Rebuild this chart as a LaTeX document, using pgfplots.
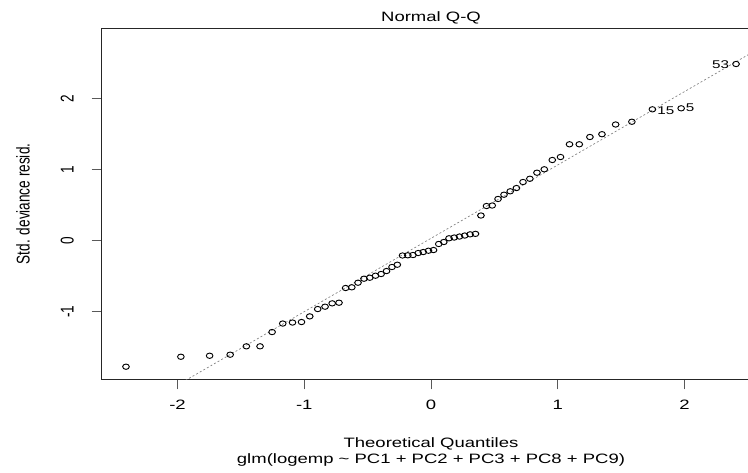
\documentclass[border=0pt]{standalone}
\usepackage{pgfplots}
\pgfplotsset{compat=1.18}
\usepackage{fontspec}
\usepackage{graphicx}
\setmainfont{Liberation Sans}[FakeStretch=1.36]
\newfontfamily\plainfont{Liberation Sans}
\newcommand{\fsz}{\fontsize{10.2pt}{12pt}\selectfont}
\newcommand{\rot}[1]{\scalebox{1}[1.36]{\plainfont\fsz #1}}
\pgfplotstableread{
x y
-2.407 -1.777
-1.974 -1.637
-1.747 -1.623
-1.585 -1.608
-1.457 -1.490
-1.349 -1.490
-1.254 -1.289
-1.170 -1.169
-1.093 -1.155
-1.022 -1.148
-0.957 -1.068
-0.894 -0.965
-0.836 -0.932
-0.780 -0.885
-0.726 -0.876
-0.674 -0.669
-0.625 -0.659
-0.576 -0.594
-0.529 -0.538
-0.483 -0.524
-0.438 -0.496
-0.394 -0.472
-0.351 -0.430
-0.308 -0.373
-0.266 -0.341
-0.225 -0.211
-0.183 -0.208
-0.142 -0.204
-0.101 -0.176
-0.061 -0.162
-0.020 -0.144
0.020 -0.134
0.061 -0.049
0.101 -0.021
0.142 0.031
0.183 0.042
0.225 0.056
0.266 0.070
0.308 0.087
0.351 0.094
0.394 0.352
0.438 0.486
0.483 0.493
0.529 0.585
0.576 0.645
0.625 0.693
0.674 0.739
0.726 0.824
0.780 0.870
0.836 0.955
0.894 1.003
0.957 1.134
1.022 1.176
1.093 1.355
1.170 1.355
1.254 1.458
1.349 1.497
1.457 1.634
1.585 1.673
1.747 1.848
1.974 1.862
2.407 2.486
}\qqdata
\begin{document}
\begin{tikzpicture}
\path[use as bounding box] (0,0) rectangle (561pt,354.75pt);
\begin{axis}[
  name=ax,
  at={(76.05pt,69.98pt)}, anchor=south west,
  scale only axis, width=494.4pt, height=263.55pt,
  xmin=-2.601, xmax=2.601, ymin=-1.960, ymax=2.989,
  clip mode=individual,
  xtick={-2,-1,0,1,2}, ytick={-1,0,1,2},
  xticklabels={-2,-1,0,1,2},
  yticklabels={\rot{-1},\rot{0},\rot{1},\rot{2}},
  tick align=outside, major tick length=7.3pt,
  xtick pos=bottom, ytick pos=left,
  axis line style={black!85, line width=0.6pt},
  tick style={black!65, line width=0.6pt},
  xticklabel style={font=\fsz, anchor=north, inner sep=0pt},
  xticklabel shift=7.8pt,
  yticklabel style={rotate=90, anchor=base, inner sep=0pt},
  yticklabel shift=13.6pt,
  title={Normal Q-Q},
  title style={font=\fsz, at={(0.5,1)}, anchor=base, yshift=-0.7pt, inner sep=0pt},
  xlabel={Theoretical Quantiles},
  xlabel style={font=\fsz, at={(axis description cs:0.5,0)}, anchor=base, yshift=-50.7pt, inner sep=0pt},
  ylabel={\rot{Std. deviance resid.}},
  ylabel style={at={(axis description cs:-0.109,0.5)}, anchor=base, rotate=0, inner sep=0pt},
]
\addplot[black!50, line width=0.5pt, dash pattern=on 1.5pt off 1.6pt] coordinates {(-2.7,-2.758) (2.7,2.820)};
\addplot[only marks, mark=o, mark size=2.0pt, mark options={xscale=1.25, line width=0.7pt, black}] table[x=x,y=y] {\qqdata};
\node[font=\fontsize{8.4pt}{9pt}\selectfont, inner sep=0pt] at (axis cs:2.285,2.479) {53};
\node[font=\fontsize{8.4pt}{9pt}\selectfont, inner sep=0pt] at (axis cs:1.853,1.834) {15};
\node[font=\fontsize{8.4pt}{9pt}\selectfont, inner sep=0pt] at (axis cs:2.044,1.866) {5};
\end{axis}
\node[font=\fsz, anchor=base, inner sep=0pt, yshift=-63.1pt] at (ax.south) {glm(logemp \textasciitilde{} PC1 + PC2 + PC3 + PC8 + PC9)};
\end{tikzpicture}
\end{document}
